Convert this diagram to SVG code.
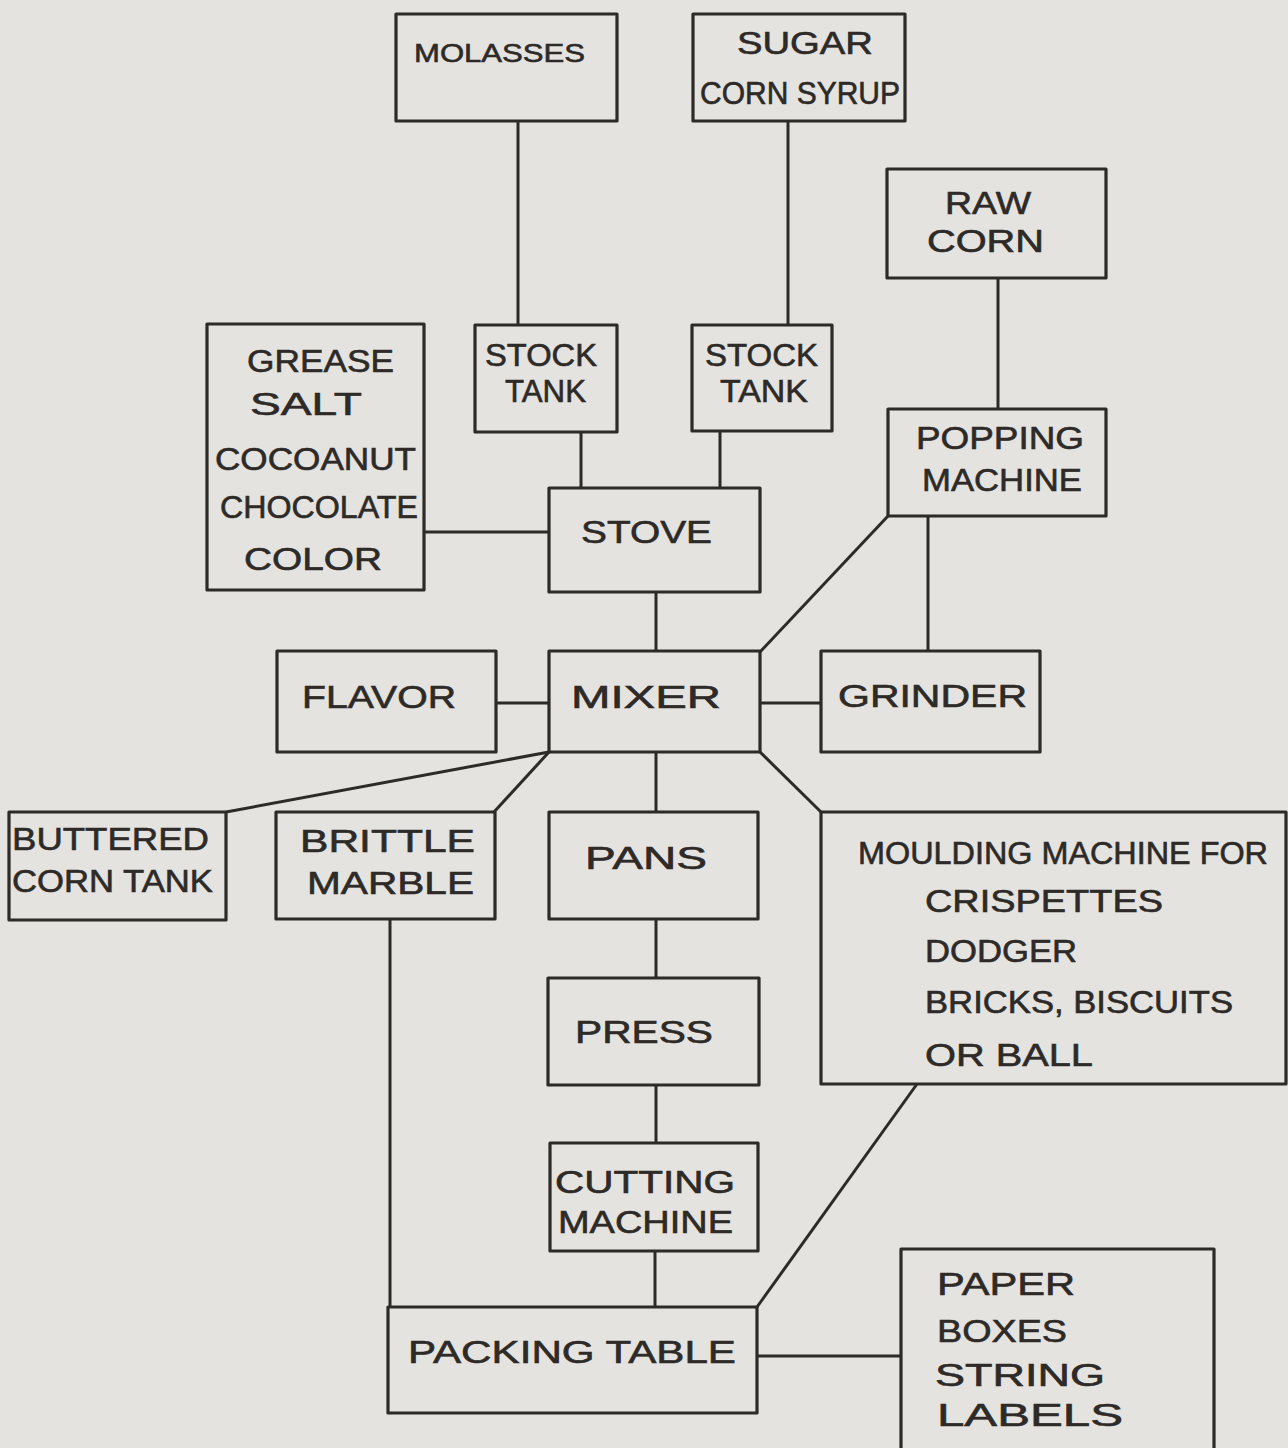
<svg xmlns="http://www.w3.org/2000/svg" width="1288" height="1448" viewBox="0 0 1288 1448">
<style>
.b{fill:none;stroke:#2d2a27;stroke-width:3.2;stroke-linejoin:round}
.c{fill:none;stroke:#2d2a27;stroke-width:3}
text{font-family:"Liberation Sans",Arial,sans-serif;font-size:31px;fill:#2d2a27;stroke:#2d2a27;stroke-width:0.6}
</style>
<rect width="1288" height="1448" fill="#e4e3df"/>
<g id="connectors">
<line class="c" x1="518" y1="121" x2="518" y2="325"/>
<line class="c" x1="788" y1="121" x2="788" y2="325"/>
<line class="c" x1="998" y1="278" x2="998" y2="409"/>
<line class="c" x1="581" y1="432" x2="581" y2="488"/>
<line class="c" x1="720" y1="431" x2="720" y2="488"/>
<line class="c" x1="424" y1="532" x2="549" y2="532"/>
<line class="c" x1="656" y1="592" x2="656" y2="651"/>
<line class="c" x1="888" y1="516" x2="760" y2="652"/>
<line class="c" x1="928" y1="516" x2="928" y2="651"/>
<line class="c" x1="496" y1="703" x2="549" y2="703"/>
<line class="c" x1="760" y1="703" x2="821" y2="703"/>
<line class="c" x1="549" y1="752" x2="226" y2="812"/>
<line class="c" x1="549" y1="752" x2="494" y2="812"/>
<line class="c" x1="656" y1="752" x2="656" y2="812"/>
<line class="c" x1="760" y1="752" x2="821" y2="812"/>
<line class="c" x1="656" y1="919" x2="656" y2="978"/>
<line class="c" x1="656" y1="1085" x2="656" y2="1143"/>
<line class="c" x1="655" y1="1251" x2="655" y2="1307"/>
<line class="c" x1="390" y1="919" x2="390" y2="1307"/>
<line class="c" x1="917" y1="1084" x2="757" y2="1307"/>
<line class="c" x1="757" y1="1356" x2="901" y2="1356"/>
</g>
<g id="molasses"><rect class="b" x="396" y="14" width="221" height="107"/><text x="414" y="62" textLength="171" lengthAdjust="spacingAndGlyphs" style="font-size:26px">MOLASSES</text></g>
<g id="sugar"><rect class="b" x="693" y="14" width="212" height="107"/><text x="737" y="54" textLength="136" lengthAdjust="spacingAndGlyphs">SUGAR</text><text x="700" y="104" textLength="200" lengthAdjust="spacingAndGlyphs">CORN SYRUP</text></g>
<g id="rawcorn"><rect class="b" x="887" y="169" width="219" height="109"/><text x="945" y="214" textLength="86" lengthAdjust="spacingAndGlyphs">RAW</text><text x="927" y="252" textLength="117" lengthAdjust="spacingAndGlyphs">CORN</text></g>
<g id="grease"><rect class="b" x="207" y="324" width="217" height="266"/><text x="247" y="372" textLength="147" lengthAdjust="spacingAndGlyphs">GREASE</text><text x="250" y="415" textLength="112" lengthAdjust="spacingAndGlyphs">SALT</text><text x="215" y="470" textLength="201" lengthAdjust="spacingAndGlyphs">COCOANUT</text><text x="220" y="518" textLength="198" lengthAdjust="spacingAndGlyphs">CHOCOLATE</text><text x="244" y="570" textLength="138" lengthAdjust="spacingAndGlyphs">COLOR</text></g>
<g id="stocktank1"><rect class="b" x="475" y="325" width="142" height="107"/><text x="485" y="366" textLength="112" lengthAdjust="spacingAndGlyphs">STOCK</text><text x="505" y="402" textLength="81" lengthAdjust="spacingAndGlyphs">TANK</text></g>
<g id="stocktank2"><rect class="b" x="692" y="325" width="140" height="106"/><text x="705" y="366" textLength="113" lengthAdjust="spacingAndGlyphs">STOCK</text><text x="720" y="402" textLength="88" lengthAdjust="spacingAndGlyphs">TANK</text></g>
<g id="popping"><rect class="b" x="888" y="409" width="218" height="107"/><text x="916" y="449" textLength="168" lengthAdjust="spacingAndGlyphs">POPPING</text><text x="922" y="491" textLength="160" lengthAdjust="spacingAndGlyphs">MACHINE</text></g>
<g id="stove"><rect class="b" x="549" y="488" width="211" height="104"/><text x="581" y="543" textLength="131" lengthAdjust="spacingAndGlyphs">STOVE</text></g>
<g id="flavor"><rect class="b" x="277" y="651" width="219" height="101"/><text x="302" y="708" textLength="154" lengthAdjust="spacingAndGlyphs">FLAVOR</text></g>
<g id="mixer"><rect class="b" x="549" y="651" width="211" height="101"/><text x="571" y="708" textLength="150" lengthAdjust="spacingAndGlyphs">MIXER</text></g>
<g id="grinder"><rect class="b" x="821" y="651" width="219" height="101"/><text x="838" y="707" textLength="189" lengthAdjust="spacingAndGlyphs">GRINDER</text></g>
<g id="buttered"><rect class="b" x="9" y="812" width="217" height="108"/><text x="12" y="850" textLength="197" lengthAdjust="spacingAndGlyphs">BUTTERED</text><text x="12" y="892" textLength="201" lengthAdjust="spacingAndGlyphs">CORN TANK</text></g>
<g id="brittle"><rect class="b" x="276" y="812" width="219" height="107"/><text x="300" y="852" textLength="175" lengthAdjust="spacingAndGlyphs">BRITTLE</text><text x="307" y="894" textLength="167" lengthAdjust="spacingAndGlyphs">MARBLE</text></g>
<g id="pans"><rect class="b" x="549" y="812" width="209" height="107"/><text x="585" y="869" textLength="122" lengthAdjust="spacingAndGlyphs">PANS</text></g>
<g id="moulding"><rect class="b" x="821" y="812" width="465" height="272"/><text x="858" y="864" textLength="410" lengthAdjust="spacingAndGlyphs">MOULDING MACHINE FOR</text><text x="925" y="912" textLength="238" lengthAdjust="spacingAndGlyphs">CRISPETTES</text><text x="925" y="962" textLength="152" lengthAdjust="spacingAndGlyphs">DODGER</text><text x="925" y="1013" textLength="308" lengthAdjust="spacingAndGlyphs">BRICKS, BISCUITS</text><text x="925" y="1066" textLength="168" lengthAdjust="spacingAndGlyphs">OR BALL</text></g>
<g id="press"><rect class="b" x="548" y="978" width="211" height="107"/><text x="575" y="1043" textLength="138" lengthAdjust="spacingAndGlyphs">PRESS</text></g>
<g id="cutting"><rect class="b" x="550" y="1143" width="208" height="108"/><text x="555" y="1193" textLength="180" lengthAdjust="spacingAndGlyphs">CUTTING</text><text x="558" y="1233" textLength="175" lengthAdjust="spacingAndGlyphs">MACHINE</text></g>
<g id="packing"><rect class="b" x="388" y="1307" width="369" height="106"/><text x="408" y="1363" textLength="328" lengthAdjust="spacingAndGlyphs">PACKING TABLE</text></g>
<g id="paper"><path class="b" d="M901 1452 V1249 H1214 V1452"/><text x="937" y="1295" textLength="138" lengthAdjust="spacingAndGlyphs">PAPER</text><text x="937" y="1342" textLength="130" lengthAdjust="spacingAndGlyphs">BOXES</text><text x="935" y="1386" textLength="170" lengthAdjust="spacingAndGlyphs">STRING</text><text x="937" y="1426" textLength="186" lengthAdjust="spacingAndGlyphs">LABELS</text></g>
</svg>
